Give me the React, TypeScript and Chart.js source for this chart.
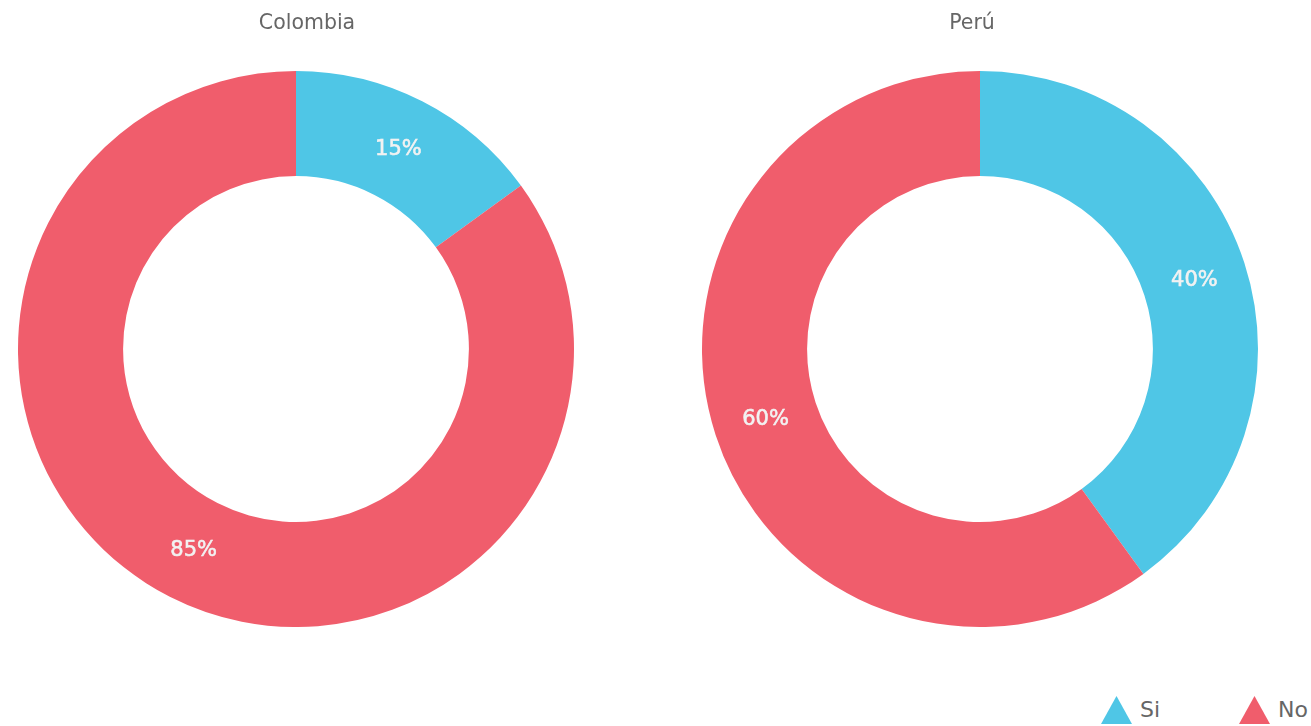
import React, { useEffect, useRef } from "react";
import { Chart, registerables } from "chart.js";

Chart.register(...registerables);

const categories = ["Si", "No"];
const colombiaValues = [15, 85];
const peruValues = [40, 60];
const chartTitles = ["Colombia", "Perú"];
const colors = ["#4FC6E6", "#F05D6C"];

const FONT = "'DejaVu Sans', sans-serif";

const labelPlugin = {
  id: "arcLabels",
  afterDatasetsDraw(chart: any) {
    const { ctx } = chart;
    const meta = chart.getDatasetMeta(0);
    const data = chart.data.datasets[0].data as number[];
    const total = data.reduce((a, b) => a + b, 0);
    ctx.save();
    ctx.font = `normal 21px ${FONT}`;
    ctx.fillStyle = "#F2F2F2";
    ctx.strokeStyle = "#F2F2F2";
    ctx.lineWidth = 0.6;
    ctx.textAlign = "center";
    ctx.textBaseline = "middle";
    meta.data.forEach((arc: any, i: number) => {
      const p = arc.tooltipPosition();
      const t = Math.round((data[i] / total) * 100) + "%";
      ctx.fillText(t, p.x, p.y + 1);
      ctx.strokeText(t, p.x, p.y + 1);
    });
    ctx.restore();
  },
};

function Donut({ title, values, left, titleX }: { title: string; values: number[]; left: number; titleX: number }) {
  const ref = useRef<HTMLCanvasElement>(null);
  useEffect(() => {
    const chart = new Chart(ref.current!, {
      type: "doughnut",
      data: {
        labels: categories,
        datasets: [{ data: values, backgroundColor: colors, borderWidth: 0, hoverOffset: 0 }],
      },
      options: {
        animation: false,
        responsive: false,
        cutout: "62.2%",
        layout: { padding: { top: 71 } },
        plugins: {
          legend: { display: false },
          tooltip: { enabled: false },
          title: { display: false },
        },
      },
      plugins: [labelPlugin],
    });
    return () => chart.destroy();
  }, []);
  return (
    <>
      <canvas
        ref={ref}
        width={592}
        height={627}
        style={{ position: "absolute", left, top: 0, width: 592, height: 627 }}
      />
      <div
        style={{
          position: "absolute",
          left: titleX - 100,
          width: 200,
          top: 10,
          textAlign: "center",
          fontFamily: FONT,
          fontSize: 20.5,
          lineHeight: "24px",
          color: "#666666",
        }}
      >
        {title}
      </div>
    </>
  );
}

function LegendItem({ label, color, left }: { label: string; color: string; left: number }) {
  return (
    <div style={{ position: "absolute", left, top: 696, height: 28, display: "flex", alignItems: "center" }}>
      <svg width={31} height={28} style={{ display: "block" }}>
        <polygon points="15.5,0 31,28 0,28" fill={color} />
      </svg>
      <span
        style={{
          marginLeft: 8,
          fontFamily: FONT,
          fontSize: 22,
          color: "#666666",
          lineHeight: "28px",
        }}
      >
        {label}
      </span>
    </div>
  );
}

export default function App() {
  return (
    <div
      style={{
        position: "fixed",
        left: 0,
        top: 0,
        width: 1311,
        height: 726,
        background: "#ffffff",
        overflow: "hidden",
      }}
    >
      <Donut title={chartTitles[0]} values={colombiaValues} left={0} titleX={307} />
      <Donut title={chartTitles[1]} values={peruValues} left={684} titleX={972} />
      <LegendItem label={categories[0]} color={colors[0]} left={1101} />
      <LegendItem label={categories[1]} color={colors[1]} left={1239} />
    </div>
  );
}
